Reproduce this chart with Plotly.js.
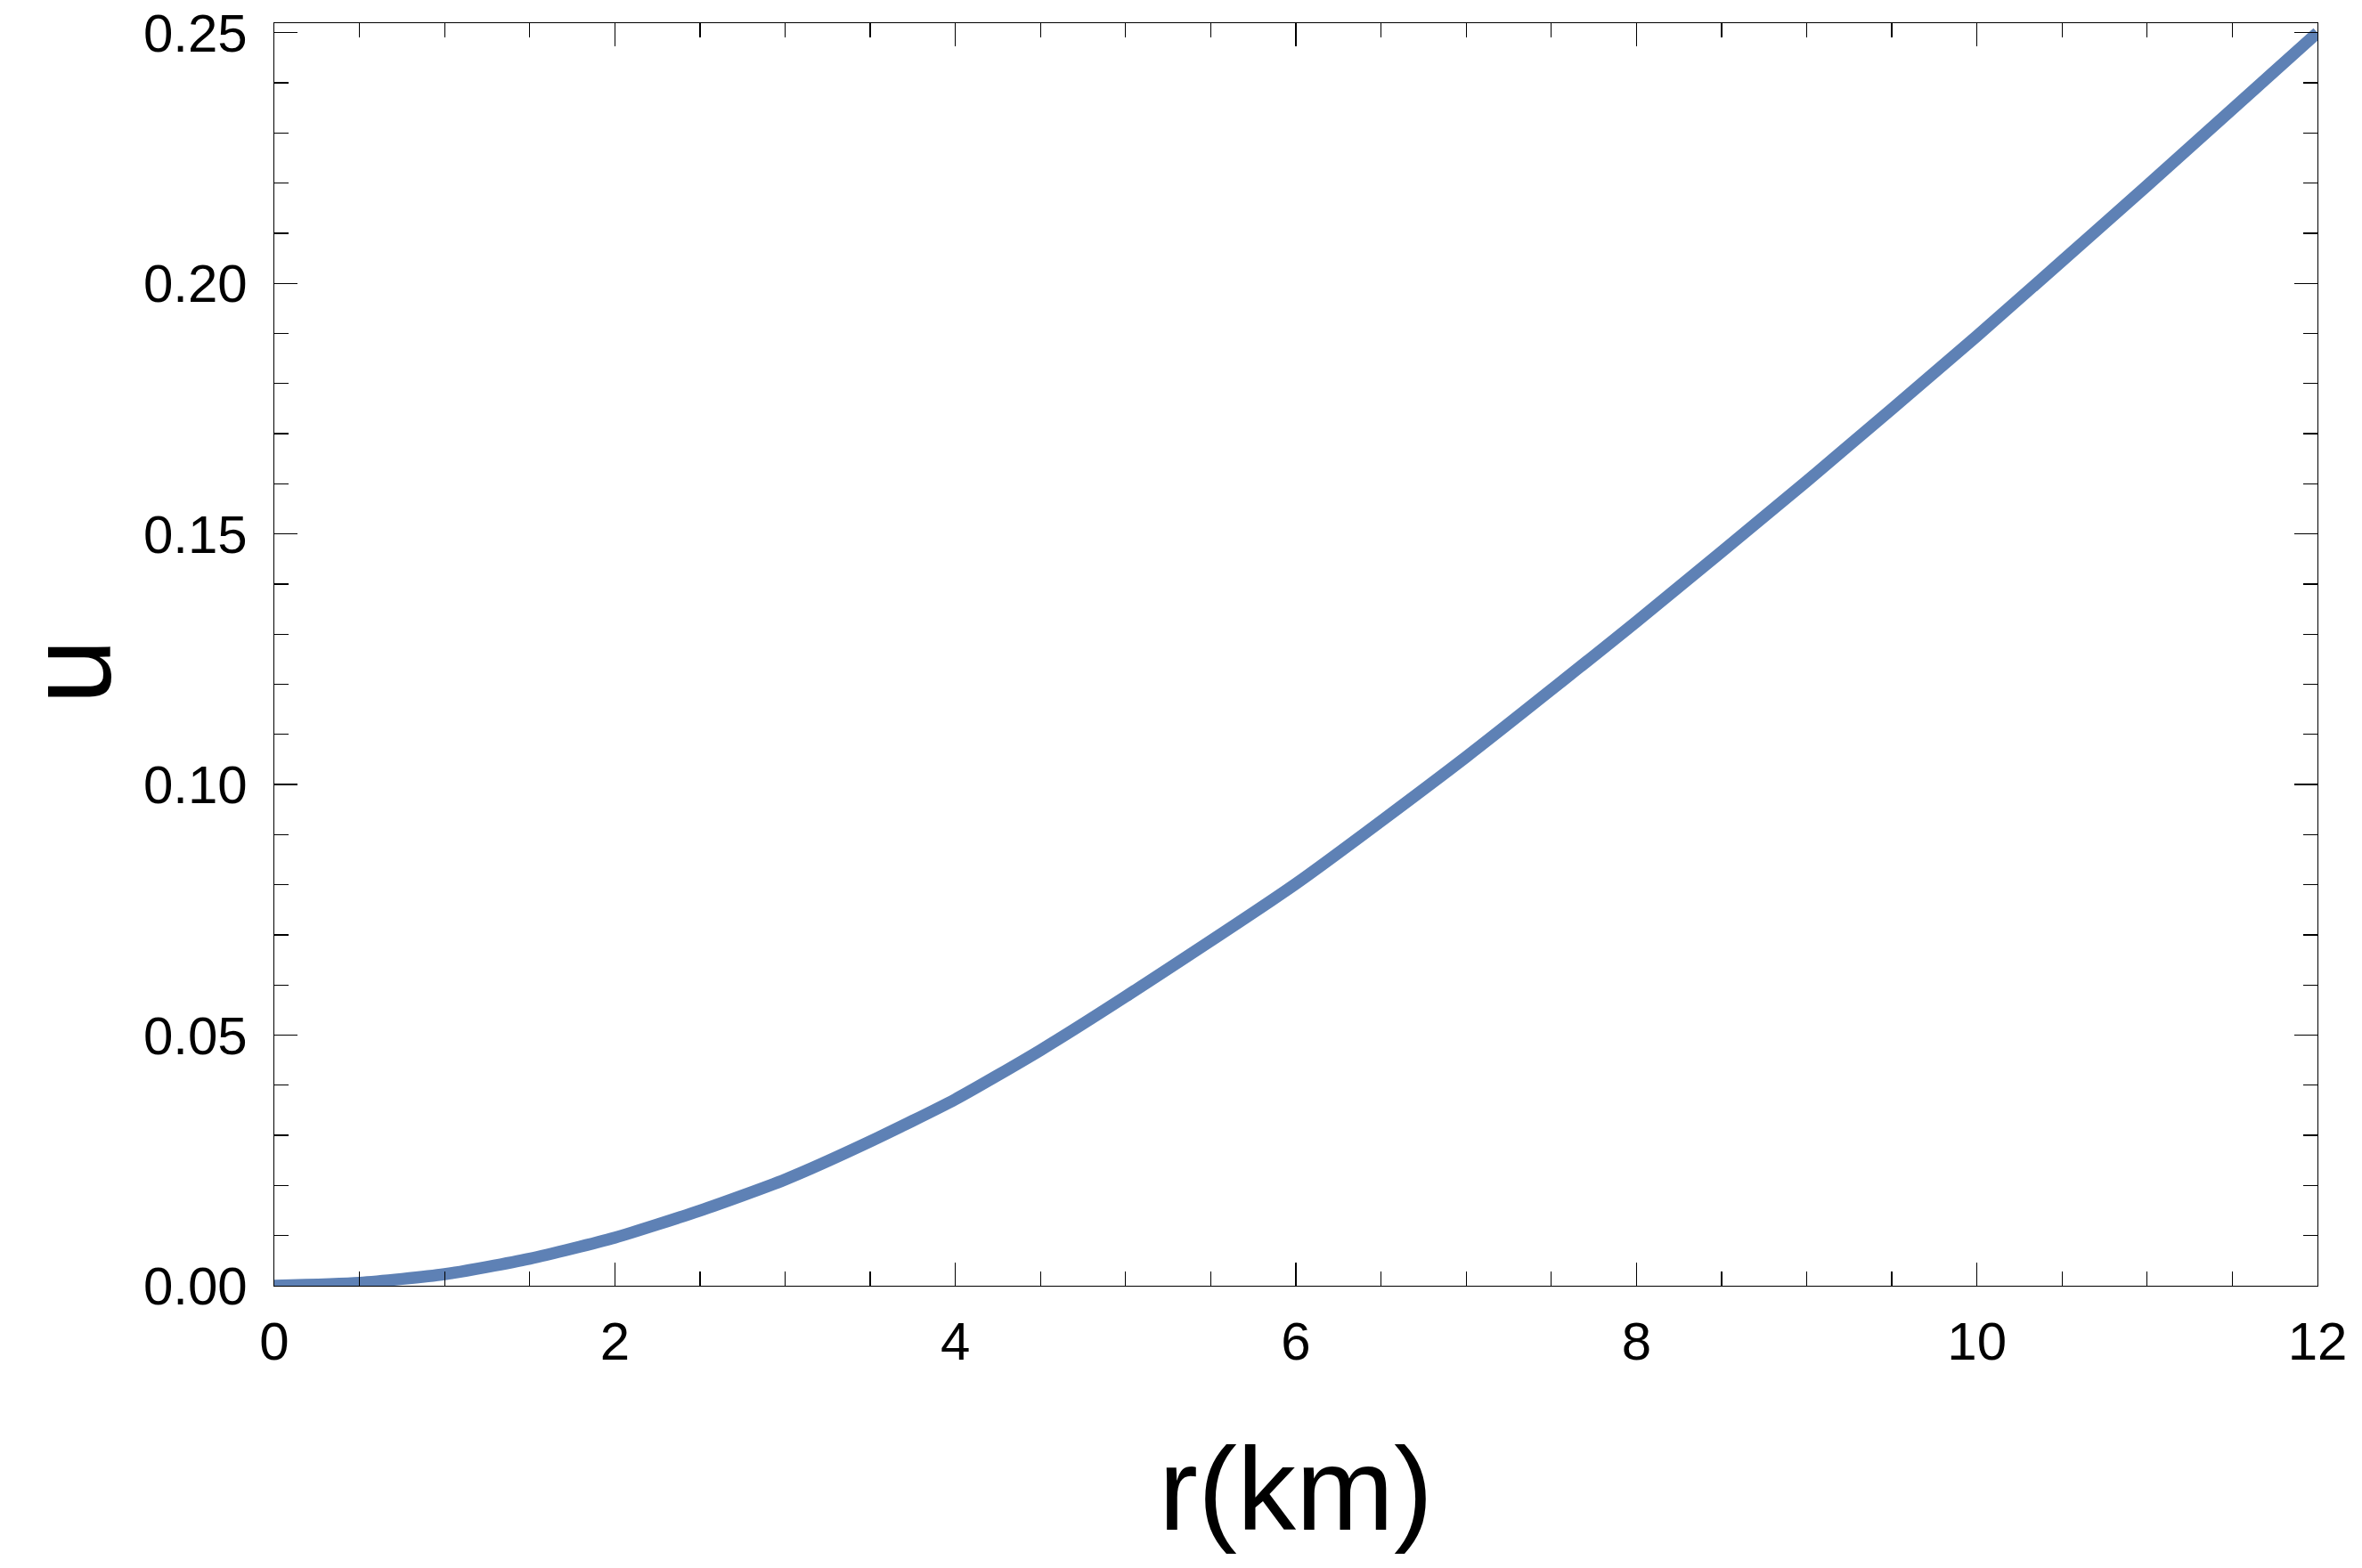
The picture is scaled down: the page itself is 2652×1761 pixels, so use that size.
<!DOCTYPE html>
<html>
<head>
<meta charset="utf-8">
<script src="https://cdn.plot.ly/plotly-3.0.1.min.js"></script>
<style>html,body{margin:0;padding:0;background:#fff;}#chart{width:2652px;height:1761px;}</style>
</head>
<body>
<div id="chart"></div>
<script>
// radius r (km)
const rValues = [0, 0.5, 1, 1.5, 2, 2.5, 3, 3.5, 4, 4.5, 5, 6, 7, 8, 9, 10, 11, 12];
// u values
const uValues = [0, 0.0006, 0.0023, 0.0054, 0.0096, 0.0150, 0.0212, 0.0288, 0.0372, 0.0470, 0.0577, 0.0802, 0.1055, 0.1325, 0.1605, 0.1895, 0.2195, 0.2500];
const xTitle = "r(km)";
const yTitle = "u";

const FONT = "Liberation Sans, Arial, Helvetica, sans-serif";

const trace = {
  x: rValues,
  y: uValues,
  type: "scatter",
  mode: "lines",
  line: {color: "#5E81B5", width: 13.5, shape: "spline", smoothing: 0.6},
  cliponaxis: true,
  hoverinfo: "none",
  showlegend: false
};

const axisCommon = {
  showgrid: false,
  zeroline: false,
  showline: true,
  linecolor: "#000",
  linewidth: 1.3,
  mirror: "allticks",
  ticks: "inside",
  tickcolor: "#000",
  tickwidth: 1.3,
  ticklen: 26,
  tickfont: {family: FONT, size: 60, color: "#000"},
  automargin: false
};

const layout = {
  width: 2652,
  height: 1761,
  paper_bgcolor: "#fff",
  plot_bgcolor: "#fff",
  margin: {l: 308, r: 50, t: 26, b: 317, pad: 0},
  font: {family: FONT, color: "#000"},
  showlegend: false,
  xaxis: Object.assign({}, axisCommon, {
    range: [0, 12],
    tick0: 0,
    dtick: 2,
    tickmode: "linear",
    ticklabelstandoff: 10,
    minor: {ticks: "inside", dtick: 0.5, ticklen: 16, tickwidth: 1.3, tickcolor: "#000", showgrid: false},
    title: {text: xTitle, font: {family: FONT, size: 132, color: "#000"}, standoff: 86}
  }),
  yaxis: Object.assign({}, axisCommon, {
    range: [0, 0.2519],
    tick0: 0,
    dtick: 0.05,
    tickmode: "linear",
    tickformat: ".2f",
    ticklabelstandoff: 17,
    minor: {ticks: "inside", dtick: 0.01, ticklen: 16, tickwidth: 1.3, tickcolor: "#000", showgrid: false}
  }),
  annotations: [{
    text: yTitle,
    xref: "paper", yref: "paper",
    x: 0, y: 0.5,
    xanchor: "center", yanchor: "middle",
    xshift: -230, yshift: -20,
    textangle: -90,
    showarrow: false,
    font: {family: FONT, size: 132, color: "#000"}
  }]
};

Plotly.newPlot("chart", [trace], layout, {staticPlot: true, displayModeBar: false});
</script>
</body>
</html>
